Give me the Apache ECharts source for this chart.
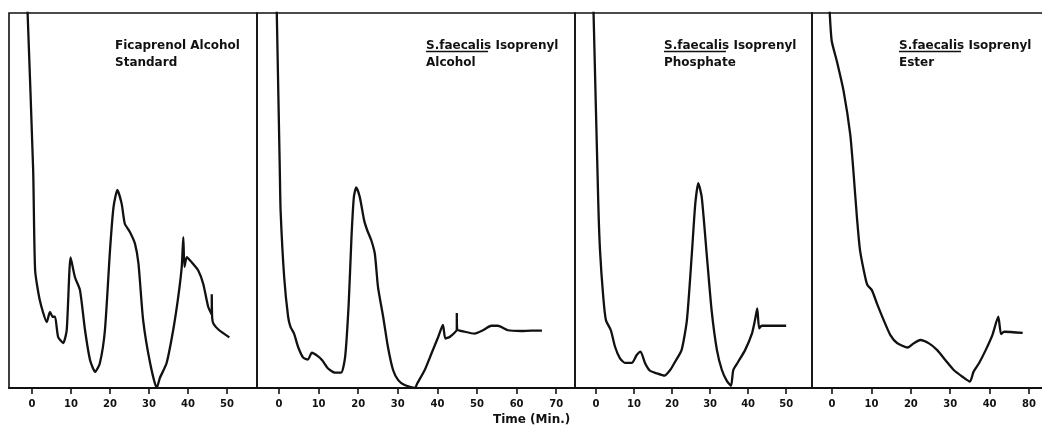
<!DOCTYPE html>
<html>
<head>
<meta charset="utf-8">
<script src="https://cdn.jsdelivr.net/npm/echarts@6/dist/echarts.min.js"></script>
<style>
  html, body { margin: 0; padding: 0; background: #fff; }
  #chart { width: 1042px; height: 432px; }
</style>
</head>
<body>
<div id="chart"></div>
<script>
// time ticks per panel (min)
const ticks1 = [0, 10, 20, 30, 40, 50]
const ticks2 = [0, 10, 20, 30, 40, 50, 60, 70]
const ticks3 = [0, 10, 20, 30, 40, 50]
const ticks4 = [0, 10, 20, 30, 40, 50]
const tickText4 = ['0', '10', '20', '30', '40', '80'] // last label printed as "80" in the original

// detector response (arbitrary units, 0 = baseline, 100 = top of frame), [time, response]
const ficaprenolStd = [
  [-1.2, 102], [0.3, 58], [0.8, 31.4], [2.0, 23.4], [3.8, 17.6], [4.6, 20.3], [5.3, 19], [5.9, 19],
  [6.7, 13.6], [8.0, 12], [8.9, 15.4], [9.9, 34.8], [11.0, 29.6], [12.3, 26.1], [13.6, 15.4],
  [14.9, 7.4], [16.2, 4.3], [17.4, 6.6], [18.7, 15.4], [20.0, 36.7], [20.9, 48.2], [21.9, 52.8],
  [23.0, 49.1], [23.8, 43.8], [25.1, 41.6], [26.4, 38.5], [27.3, 33.2], [28.5, 18.1], [30.3, 6.6],
  [32.0, 0], [32.8, 2.7], [34.5, 6.6], [36.2, 15.4], [37.5, 24.3], [38.4, 32.3], [38.8, 40.2],
  [39.1, 32.3], [39.7, 34.9], [40.9, 33.6], [42.6, 31.4], [43.9, 27.8], [45.2, 21.6], [46.1, 19.6],
  [46.1, 25], [46.2, 18.8], [46.5, 17.2], [47.8, 15.6], [50.6, 13.5]
]
const faecalisAlcohol = [
  [-0.6, 102], [0.2, 58], [0.4, 47.3], [1.3, 29.6], [2.3, 19], [2.9, 16.3], [3.8, 14.5], [4.8, 11],
  [6.1, 8.1], [7.3, 7.6], [8.3, 9.4], [9.8, 8.5], [10.9, 7.4], [12.4, 5.2], [14.1, 4.1], [15.7, 4.1],
  [16.7, 8.3], [17.6, 22.5], [18.3, 40.2], [18.9, 50.9], [19.5, 53.5], [20.4, 50.9], [21.5, 44.7],
  [22.3, 42], [23.3, 39.4], [24.2, 35.8], [25.0, 26.9], [26.3, 19], [27.5, 11], [28.8, 4.8],
  [30.1, 2.1], [31.7, 0.8], [34.3, 0], [34.9, 1.2], [36.8, 4.8], [38.5, 9.2], [40.2, 13.6],
  [41.4, 16.8], [42.0, 13.2], [43.1, 13.6], [44.9, 15.6], [44.9, 20.0], [45.0, 15.6], [46.9, 15.0],
  [49.4, 14.5], [51.5, 15.4], [53.6, 16.6], [55.3, 16.6], [57.8, 15.4], [61.2, 15.2], [63.7, 15.3],
  [66.4, 15.3]
]
const faecalisPhosphate = [
  [-0.7, 102], [0.6, 49.1], [1.05, 36.7], [1.9, 24.3], [2.6, 18.1], [3.9, 15.4], [5.0, 11],
  [6.3, 7.9], [7.6, 6.7], [9.4, 6.7], [10.7, 8.8], [11.7, 9.7], [12.9, 6.6], [14.2, 4.6], [16.0, 3.9],
  [18.0, 3.3], [19.5, 4.8], [20.8, 7.0], [22.5, 10.1], [23.9, 18.1], [25.2, 35.8], [26.1, 49.1],
  [26.9, 54.6], [27.8, 50.9], [29.1, 35.8], [30.4, 20.7], [31.8, 10.1], [33.1, 4.8], [34.4, 1.9],
  [35.5, 0.6], [36.1, 4.8], [37.4, 7.0], [39.2, 10.1], [41.0, 14.5], [41.8, 18.1], [42.4, 21.2],
  [42.9, 15.9], [43.6, 16.6], [50.0, 16.6]
]
const faecalisEster = [
  [-0.7, 102], [-0.1, 92.6], [1.2, 87.2], [2.9, 79.3], [4.6, 67.7], [5.4, 58], [6.3, 45.6],
  [7.1, 36.7], [8.4, 29.6], [9.0, 27.4], [10.1, 26.1], [11.4, 22.5], [13.1, 18.1], [14.8, 14.1],
  [16.5, 12], [19.2, 10.8], [20.7, 11.9], [22.4, 12.8], [24.6, 11.9], [26.7, 10.1], [28.8, 7.4],
  [30.9, 4.8], [33.1, 3.0], [35.0, 1.7], [35.9, 4.3], [37.3, 6.6], [39.0, 10.1], [40.7, 14.1],
  [42.2, 19], [42.9, 14.4], [43.7, 15], [48.4, 14.7]
]

const panels = [
  { data: ficaprenolStd, ticks: ticks1, left: 9, right: 785, min: -5.9, max: 57.7, frame: true },
  { data: faecalisAlcohol, ticks: ticks2, left: 257, right: 467, min: -5.56, max: 74.75, frame: true },
  { data: faecalisPhosphate, ticks: ticks3, left: 575, right: 230, min: -5.53, max: 56.8, frame: true },
  // last frame is open on the right (runs off the page)
  { data: faecalisEster, ticks: ticks4, left: 812, right: 0, min: -5.1, max: 53.3, text: tickText4, frame: false }
]

const ink = '#111'
const labelFont = { color: ink, fontFamily: 'DejaVu Sans', fontWeight: 'bold', fontSize: 10 }
const headFont = 'bold 12px "DejaVu Sans"'
const frameLine = { color: ink, width: 1.6 }

const xAxes = panels.map((p, i) => ({
  type: 'value', gridIndex: i, min: p.min, max: p.max,
  axisLine: { show: true, onZero: false, lineStyle: { color: ink, width: 2 } },
  axisTick: { show: true, customValues: p.ticks, length: 6, lineStyle: { color: ink, width: 1.6 } },
  axisLabel: {
    show: true, customValues: p.ticks, margin: 11, ...labelFont,
    formatter: v => p.text ? p.text[p.ticks.indexOf(v)] : String(v)
  },
  splitLine: { show: false }
}))
// top edge of the open last frame
xAxes.push({
  type: 'value', gridIndex: 3, position: 'top', min: panels[3].min, max: panels[3].max,
  axisLine: { show: true, onZero: false, lineStyle: frameLine },
  axisTick: { show: false }, axisLabel: { show: false }, splitLine: { show: false }
})

const option = {
  animation: false,
  backgroundColor: '#fff',
  grid: panels.map(p => ({
    left: p.left, right: p.right, top: 13, bottom: 44,
    show: p.frame, borderColor: ink, borderWidth: 1.6, backgroundColor: 'transparent'
  })),
  xAxis: xAxes,
  yAxis: panels.map((p, i) => ({
    type: 'value', gridIndex: i, min: 0, max: 100,
    axisLine: { show: !p.frame, onZero: false, lineStyle: frameLine },
    axisTick: { show: false }, axisLabel: { show: false }, splitLine: { show: false }
  })),
  series: panels.map((p, i) => ({
    type: 'line', xAxisIndex: i, yAxisIndex: i, data: p.data,
    showSymbol: false, smooth: 0.2, clip: true,
    lineStyle: { color: ink, width: 2.3 }
  })),
  graphic: [
    { type: 'text', left: 115, top: 37, style: { text: 'Ficaprenol Alcohol\nStandard', font: headFont, fill: ink, lineHeight: 17 } },
    { type: 'text', left: 426, top: 37, style: { text: 'S.faecalis Isoprenyl\nAlcohol', font: headFont, fill: ink, lineHeight: 17 } },
    { type: 'text', left: 664, top: 37, style: { text: 'S.faecalis Isoprenyl\nPhosphate', font: headFont, fill: ink, lineHeight: 17 } },
    { type: 'text', left: 899, top: 37, style: { text: 'S.faecalis Isoprenyl\nEster', font: headFont, fill: ink, lineHeight: 17 } },
    { type: 'line', shape: { x1: 426, y1: 51.5, x2: 488, y2: 51.5 }, style: { stroke: ink, lineWidth: 1.3 } },
    { type: 'line', shape: { x1: 664, y1: 51.5, x2: 726, y2: 51.5 }, style: { stroke: ink, lineWidth: 1.3 } },
    { type: 'line', shape: { x1: 899, y1: 51.5, x2: 961, y2: 51.5 }, style: { stroke: ink, lineWidth: 1.3 } },
    { type: 'text', left: 493, top: 414, style: { text: 'Time (Min.)', font: 'bold 12px "DejaVu Sans"', fill: ink } }
  ]
}

const myChart = echarts.init(document.getElementById('chart'))
myChart.setOption(option)
</script>
</body>
</html>
